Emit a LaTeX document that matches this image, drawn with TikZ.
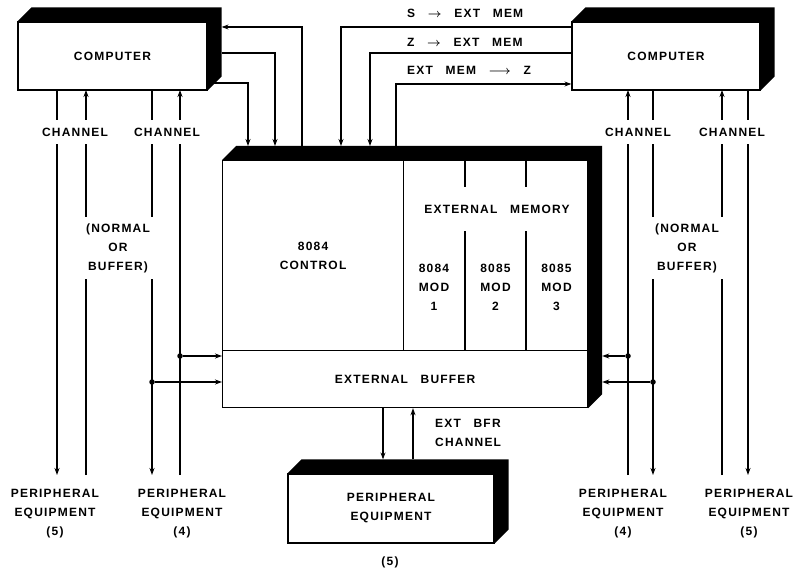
\documentclass[tikz,border=0pt]{standalone}
\usepackage{fontspec}
\setmainfont{Liberation Sans}
\newfontfamily\lettering[LetterSpace=10,WordSpace=2.8]{Liberation Sans}
\usepackage{tikz}
\usetikzlibrary{calc,positioning,arrows.meta}

\tikzset{
  txt/.style={font=\lettering\bfseries\fontsize{12}{19}\selectfont},
  box/.style={draw, fill=white, line width=1.2pt, inner sep=2pt, txt, align=center},
  lbl/.style={inner sep=2pt, txt, align=center},
  gaplbl/.style={lbl, fill=white, inner ysep=8pt},
  wire/.style={line width=1.1pt},
  dot/.style={circle, fill, inner sep=0pt, minimum size=5.5pt},
}
% black top and right faces of a raised box
\newcommand{\blockshade}[3]{%
  \fill (#1) -- ++(14,-14) -- ($(#2)+(14,-14)$) -- ($(#3)+(14,-14)$) -- (#3) -- (#2) -- cycle;}

\begin{document}
\begin{tikzpicture}[x=1pt, y=-1pt, >={Stealth[length=7pt,width=5pt]}]
  \useasboundingbox (0,0) rectangle (793,580);

  % computers
  \node[box, minimum width=189, minimum height=68] (cpl) at (112.5,56) {COMPUTER};
  \blockshade{cpl.north west}{cpl.north east}{cpl.south east}
  \node[box, minimum width=188, minimum height=68] (cpr) at (666,56) {COMPUTER};
  \blockshade{cpr.north west}{cpr.north east}{cpr.south east}

  % main block
  \node[box, anchor=north west, minimum width=181, minimum height=190] (ctrl) at (222,160) {8084\\CONTROL};
  \node[box, anchor=north west, minimum width=184, minimum height=190] (extmem) at (403,160) {};
  \node[box, anchor=north west, minimum width=365, minimum height=57] (buffer) at (222,350) {EXTERNAL BUFFER};
  \blockshade{ctrl.north west}{extmem.north east}{buffer.south east}

  \node[lbl, inner ysep=18pt] (memlbl) at (497,209) {EXTERNAL MEMORY};
  \node[lbl] (mod1) at (434,287) {8084\\MOD\\1};
  \node[lbl] (mod2) at (495.5,287) {8085\\MOD\\2};
  \node[lbl] (mod3) at (556.5,287) {8085\\MOD\\3};
  \coordinate (dv1) at (465,160);
  \coordinate (dv2) at (526,160);
  \draw[wire] (dv1) -- (dv1 |- memlbl.north) (dv1 |- memlbl.south) -- (dv1 |- buffer.north);
  \draw[wire] (dv2) -- (dv2 |- memlbl.north) (dv2 |- memlbl.south) -- (dv2 |- buffer.north);

  % peripheral on the external buffer
  \node[box, minimum width=206, minimum height=69] (peri) at (391,508.5) {PERIPHERAL\\EQUIPMENT};
  \blockshade{peri.north west}{peri.north east}{peri.south east}
  \node[lbl] (perinum) at (390,562) {(5)};
  \coordinate (peritop) at ($(peri.north)+(0,-14)$);
  \coordinate (xdn) at (383,440);
  \coordinate (xup) at (413,440);
  \draw[wire,->] (xdn |- buffer.south) -- (xdn |- peritop);
  \draw[wire,->] (xup |- peritop) -- (xup |- buffer.south);
  \node[lbl, anchor=west, align=left] (bfrch) at (433,433) {EXT BFR\\CHANNEL};

  % top connections
  \coordinate (blktop) at ($(ctrl.north west)+(14,-14)$);
  \coordinate (cplback) at ($(cpl.north east)+(14,-14)$);
  \coordinate (ta) at (302,27);
  \coordinate (tb) at (275,53);
  \coordinate (tc) at (248,83);
  \coordinate (tcs) at (214,83);
  \draw[wire,->] (ta |- blktop) -- (ta) -- (ta -| cplback);
  \draw[wire,->] (tb -| cplback) -- (tb) -- (tb |- blktop);
  \draw[wire,->] (tcs) -- (tc) -- (tc |- blktop);

  \coordinate (td) at (341,27);
  \coordinate (te) at (370,53);
  \coordinate (tf) at (396,84);
  \draw[wire,->] (td -| cpr.west) -- (td) -- (td |- blktop);
  \draw[wire,->] (te -| cpr.west) -- (te) -- (te |- blktop);
  \draw[wire,->] (tf |- blktop) -- (tf) -- (tf -| cpr.west);
  \node[lbl, anchor=west] (sext) at (405,13) {S {\boldmath$\rightarrow$} EXT MEM};
  \node[lbl, anchor=west] (zext) at (405,42) {Z {\boldmath$\rightarrow$} EXT MEM};
  \node[lbl, anchor=west] (extz) at (405,70) {EXT MEM {\boldmath$\longrightarrow$} Z};

  % peripheral equipment on channels
  \node[lbl, anchor=north] (pe5l) at (55,487) {PERIPHERAL\\EQUIPMENT\\(5)};
  \node[lbl, anchor=north] (pe4l) at (182,487) {PERIPHERAL\\EQUIPMENT\\(4)};
  \node[lbl, anchor=north] (pe4r) at (623,487) {PERIPHERAL\\EQUIPMENT\\(4)};
  \node[lbl, anchor=north] (pe5r) at (749,487) {PERIPHERAL\\EQUIPMENT\\(5)};

  % left channels
  \coordinate (l1) at (57,90);
  \coordinate (l2) at (86,90);
  \coordinate (l3) at (152,90);
  \coordinate (l4) at (180,90);
  \draw[wire,->,shorten >=12pt] (l1) -- (l1 |- pe5l.north);
  \draw[wire,->,shorten <=12pt] (l2 |- pe5l.north) -- (l2);
  \draw[wire,->,shorten >=12pt] (l3) -- (l3 |- pe4l.north);
  \draw[wire,->,shorten <=12pt] (l4 |- pe4l.north) -- (l4);
  \node[dot] (jl4) at (180,356) {};
  \node[dot] (jl3) at (152,382) {};
  \draw[wire,->] (jl4) -- (jl4 -| buffer.west);
  \draw[wire,->] (jl3) -- (jl3 -| buffer.west);

  % right channels
  \coordinate (r1) at (628,90);
  \coordinate (r2) at (653,90);
  \coordinate (r3) at (722,90);
  \coordinate (r4) at (748,90);
  \coordinate (blkback) at ($(buffer.south east)+(14,0)$);
  \draw[wire,->,shorten <=12pt] (r1 |- pe4r.north) -- (r1);
  \draw[wire,->,shorten >=12pt] (r2) -- (r2 |- pe4r.north);
  \draw[wire,->,shorten <=12pt] (r3 |- pe5r.north) -- (r3);
  \draw[wire,->,shorten >=12pt] (r4) -- (r4 |- pe5r.north);
  \node[dot] (jr1) at (628,356) {};
  \node[dot] (jr2) at (653,382) {};
  \draw[wire,->] (jr1) -- (jr1 -| blkback);
  \draw[wire,->] (jr2) -- (jr2 -| blkback);

  % channel labels over the lines
  \node[gaplbl] (chl1) at (75,132) {CHANNEL};
  \node[gaplbl] (chl2) at (167,132) {CHANNEL};
  \node[gaplbl] (chr1) at (638,132) {CHANNEL};
  \node[gaplbl] (chr2) at (732,132) {CHANNEL};
  \node[gaplbl, inner ysep=6pt, minimum width=76] (nobl) at (118,248) {(NORMAL\\OR\\BUFFER)};
  \node[gaplbl, inner ysep=6pt, minimum width=76] (nobr) at (687,248) {(NORMAL\\OR\\BUFFER)};
\end{tikzpicture}
\end{document}
